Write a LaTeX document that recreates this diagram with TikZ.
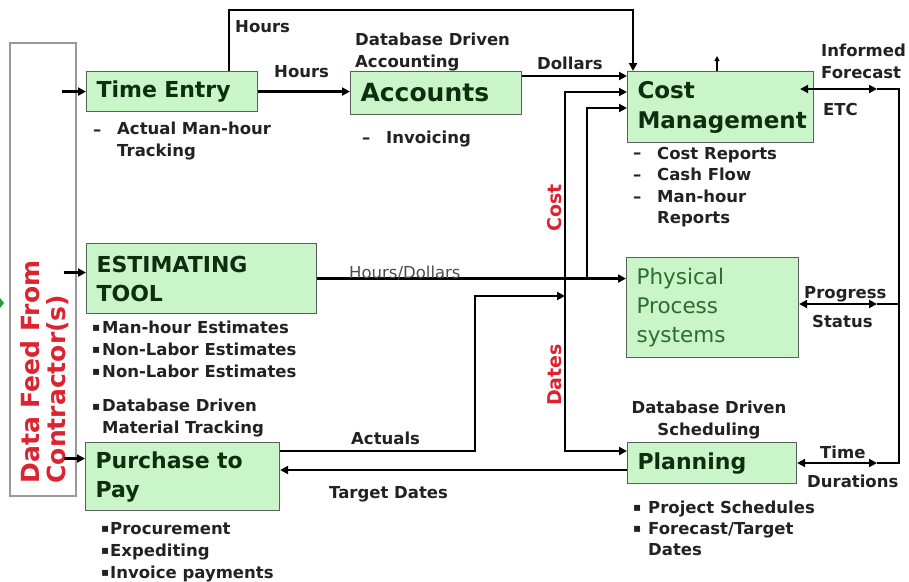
\documentclass[tikz,border=0pt]{standalone}
\usepackage{fontspec}
\setmainfont{DejaVu Sans}
\usetikzlibrary{arrows.meta}
\definecolor{boxgreen}{HTML}{C9F5C9}
\definecolor{boxedge}{HTML}{55615A}
\definecolor{titlegreen}{HTML}{0F2E0F}
\definecolor{procgreen}{HTML}{2F6B34}
\definecolor{feedred}{HTML}{DC2330}
\definecolor{labelgray}{HTML}{222222}
\definecolor{feedgreen}{HTML}{1FA03A}

\tikzset{
  sysbox/.style={draw=boxedge, line width=1.1pt, fill=boxgreen, anchor=north west,
    inner xsep=10pt, inner ysep=0pt, align=left, text=titlegreen,
    font=\bfseries\fontsize{22}{29}\selectfont},
  lbl/.style={anchor=base west, inner sep=0pt, align=left, text=labelgray,
    font=\bfseries\fontsize{16.5}{22}\selectfont},
  dots/.style={lbl, yshift=2pt, font=\fontsize{12}{22}\selectfont},
  vlabel/.style={rotate=90, inner sep=0pt, text=feedred, font=\bfseries\fontsize{19}{19}\selectfont},
  flow/.style={line width=2.4pt, -{Triangle[length=8pt,width=8pt]}},
  flowboth/.style={line width=2.4pt, {Triangle[length=8pt,width=8pt]}-{Triangle[length=8pt,width=8pt]}},
  wire/.style={line width=2.4pt},
  tick/.style={line width=1.3pt, -{Triangle[length=5pt,width=5pt]}},
}

\begin{document}
\begin{tikzpicture}[x=1pt,y=-1pt]
  \useasboundingbox (0,0) rectangle (909,581);

  % contractor feed
  \node[draw=black!40, line width=1.6pt, anchor=north west, minimum width=66pt, minimum height=453pt] (feed) at (9,42) {};
  \node[rotate=90, align=left, text=feedred, font=\bfseries\fontsize{25}{26}\selectfont] (feedlabel) at (45,372) {Data Feed From\\Contractor(s)};
  \fill[feedgreen] (0,298) -- (4,303) -- (0,308) -- cycle;

  % systems
  \node[sysbox, minimum width=171pt, minimum height=40pt, text width=151pt] (timeentry) at (86,71) {Time Entry};
  \node[sysbox, minimum width=171pt, minimum height=43pt, text width=151pt, font=\bfseries\fontsize{25}{30}\selectfont] (accounts) at (350,71) {Accounts};
  \node[sysbox, minimum width=186pt, minimum height=71pt, text width=166pt, font=\bfseries\fontsize{23}{30}\selectfont] (costmgmt) at (627,71) {Cost\\Management};
  \node[sysbox, minimum width=230pt, minimum height=70pt, text width=210pt] (estimating) at (86,243) {ESTIMATING\\TOOL};
  \node[sysbox, minimum width=172pt, minimum height=100pt, text width=152pt, text=procgreen, font=\fontsize{21.5}{29}\selectfont] (physical) at (626,257) {Physical\\Process\\systems};
  \node[sysbox, minimum width=194pt, minimum height=68pt, text width=174pt] (purchase) at (85,442) {Purchase to\\Pay};
  \node[sysbox, minimum width=169pt, minimum height=41pt, text width=149pt] (planning) at (627,442) {Planning};

  % turning points
  \coordinate (hourstop) at (633,10);
  \coordinate (upout) at (717,56);
  \coordinate (actuals) at (475,296);
  \coordinate (busA) at (565,0);
  \coordinate (busB) at (587,0);
  \coordinate (rbus) at (899,0);
  \coordinate (etc) at (877,89);
  \coordinate (prog) at (877,304);
  \coordinate (dur) at (877,463);

  % feed into systems
  \draw[flow] ([xshift=-15pt]feed.east |- timeentry.west) -- (timeentry.west);
  \draw[flow] ([xshift=-13pt,yshift=6pt]feed.east |- estimating.west) -- ([yshift=6pt]estimating.west);
  \draw[flow] ([xshift=-13pt,yshift=18pt]feed.east |- purchase.west) -- ([yshift=18pt]purchase.west);

  % hours and dollars
  \draw[flow] (timeentry.east) -- (accounts.west |- timeentry.east);
  \draw[flow] ([xshift=-29pt]timeentry.north east) |- (hourstop) -- (hourstop |- costmgmt.north);
  \draw[flow] ([yshift=-5pt]accounts.north east) -- ([yshift=-5pt]accounts.north east -| costmgmt.west);
  \draw[tick] (upout |- costmgmt.north) -- (upout);
  \draw[flow] (estimating.east) -- (physical.west |- estimating.east);
  \draw[flow] (busB |- estimating.east) |- ([yshift=-37pt]costmgmt.north west);

  % cost / dates bus
  \draw[flowboth] ([yshift=-21pt]costmgmt.north west) -| ([yshift=-9pt]busA |- planning.north west) -- ([yshift=-9pt]planning.north west);
  \draw[flow] ([yshift=-9pt]purchase.north east) -| (actuals) -- (busA |- actuals);
  \draw[flow] ([yshift=-28pt]planning.north west) -- ([yshift=-28pt]planning.north west -| purchase.east);

  % right hand loop
  \draw[flowboth] ([xshift=-14pt]costmgmt.east |- etc) -- (etc);
  \draw[flowboth] (physical.east |- prog) -- (prog);
  \draw[flowboth] (planning.east |- dur) -- (dur);
  \draw[wire] (etc) -| (rbus |- dur) -- (dur);
  \draw[wire] (prog) -- (rbus |- prog);

  % connector labels (base = last line)
  \node[lbl] (lhourstop) at (235,32) {Hours};
  \node[lbl] (lhours) at (274,77) {Hours};
  \node[lbl] (ldbacc) at (355,67) {Database Driven\\Accounting};
  \node[lbl] (ldollars) at (537,69) {Dollars};
  \node[lbl, font=\fontsize{16.5}{22}\selectfont, text=black!70] (lhrsdol) at (349,278) {Hours/Dollars};
  \node[lbl] (lactuals) at (351,444) {Actuals};
  \node[lbl] (ltarget) at (329,498) {Target Dates};
  \node[lbl] (linformed) at (821,78) {Informed\\Forecast};
  \node[lbl] (letc) at (823,115) {ETC};
  \node[lbl] (lprogress) at (804,298) {Progress};
  \node[lbl] (lstatus) at (812,327) {Status};
  \node[lbl] (ltime) at (820,458) {Time};
  \node[lbl] (ldurations) at (807,487) {Durations};
  \node[lbl, anchor=base, align=center] (ldbsched) at (709,435) {Database Driven\\Scheduling};
  \node[vlabel] (lcost) at (555,208) {Cost};
  \node[vlabel] (ldates) at (555,375) {Dates};

  % notes under the systems
  \node[lbl] (tedash) at (93,135) {–};
  \node[lbl] (tenote) at (117,156) {Actual Man-hour\\Tracking};
  \node[lbl] (acdash) at (362,143) {–};
  \node[lbl] (acnote) at (386,143) {Invoicing};
  \node[lbl] (cmdash) at (633,202) {–\\–\\–};
  \node[lbl, font=\bfseries\fontsize{16.5}{21.5}\selectfont] (cmnote) at (657,223.5) {Cost Reports\\Cash Flow\\Man-hour\\Reports};
  \node[dots] (esdot) at (92,377) {▪\\▪\\▪};
  \node[lbl] (esnote) at (102,377) {Man-hour Estimates\\Non-Labor Estimates\\Non-Labor Estimates};
  \node[dots] (mtdot) at (92,412) {▪};
  \node[lbl] (mtnote) at (102,433) {Database Driven\\Material Tracking};
  \node[dots] (pudot) at (101,578) {▪\\▪\\▪};
  \node[lbl] (punote) at (110,578) {Procurement\\Expediting\\Invoice payments};
  \node[dots, font=\fontsize{12}{21}\selectfont] (pldot) at (633,534) {▪\\▪};
  \node[lbl, font=\bfseries\fontsize{16.5}{21}\selectfont] (plnote) at (648,555) {Project Schedules\\Forecast/Target\\Dates};
\end{tikzpicture}
\end{document}
